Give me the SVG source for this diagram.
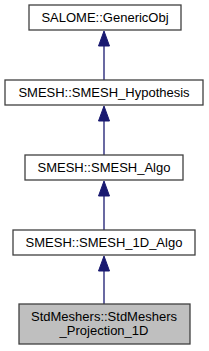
<svg xmlns="http://www.w3.org/2000/svg" width="209" height="351" viewBox="0 0 209 351">
<style>
.box{fill:#ffffff;stroke:#404040;stroke-width:1.3}
.cur{fill:#bfbfbf;stroke:#404040;stroke-width:1.3}
.lbl{font-family:"Liberation Sans",Arial,sans-serif;font-size:13px;fill:#000;text-anchor:middle}
.edge{stroke:#191970;stroke-width:1.3;fill:none}
.head{fill:#191970;stroke:#191970;stroke-width:1}
</style>
<rect width="209" height="351" fill="#ffffff"/>
<g id="connectors">
<line class="edge" x1="104" y1="46" x2="104" y2="80"/>
<polygon class="head" points="104,31 98.5,46 109.5,46"/>
<line class="edge" x1="104" y1="121" x2="104" y2="155"/>
<polygon class="head" points="104,106 98.5,121 109.5,121"/>
<line class="edge" x1="104" y1="196" x2="104" y2="230"/>
<polygon class="head" points="104,181 98.5,196 109.5,196"/>
<line class="edge" x1="104" y1="271" x2="104" y2="304"/>
<polygon class="head" points="104,256 98.5,271 109.5,271"/>
</g>
<g id="node_GenericObj">
<rect class="box" x="29" y="5" width="152" height="25"/>
<text class="lbl" x="105" y="22">SALOME::GenericObj</text>
</g>
<g id="node_Hypothesis">
<rect class="box" x="5" y="80" width="198" height="25"/>
<text class="lbl" x="104" y="97">SMESH::SMESH_Hypothesis</text>
</g>
<g id="node_Algo">
<rect class="box" x="25" y="155" width="158" height="25"/>
<text class="lbl" x="104" y="172">SMESH::SMESH_Algo</text>
</g>
<g id="node_1D_Algo">
<rect class="box" x="13" y="230" width="182" height="25"/>
<text class="lbl" x="104" y="247">SMESH::SMESH_1D_Algo</text>
</g>
<g id="node_Projection_1D">
<rect class="cur" x="19" y="304" width="171" height="40"/>
<text class="lbl" x="104" y="321">StdMeshers::StdMeshers</text>
<text class="lbl" x="104" y="335">_Projection_1D</text>
</g>
</svg>
